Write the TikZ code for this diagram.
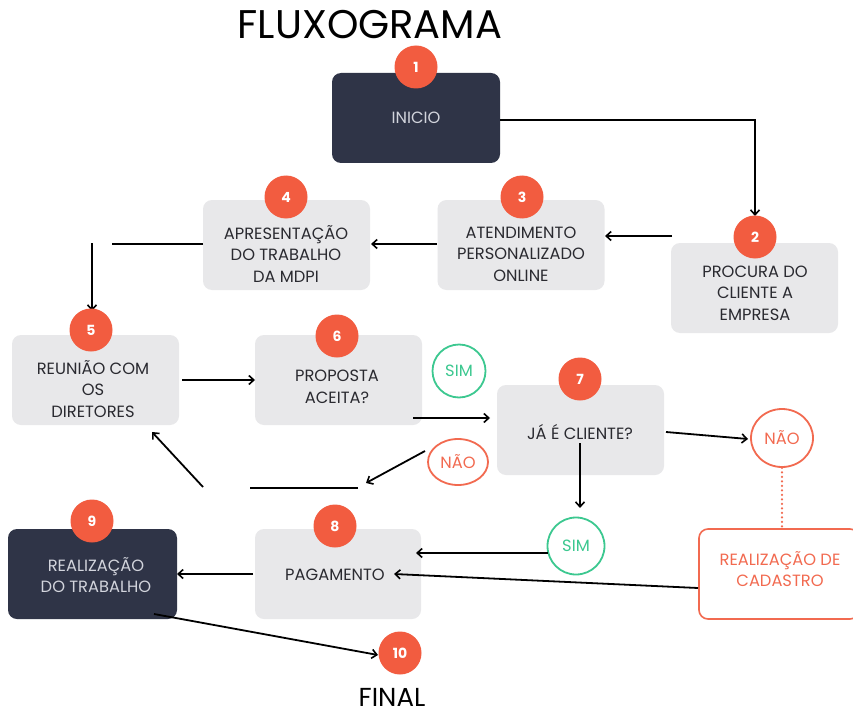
\documentclass[tikz,border=0pt]{standalone}
\usepackage{fontspec}
\setmainfont{Poppins}
\usetikzlibrary{arrows.meta,shapes.geometric}
\definecolor{darkbox}{HTML}{2F3447}
\definecolor{graybox}{HTML}{E8E8EA}
\definecolor{badgeor}{HTML}{F25C40}
\definecolor{simgreen}{HTML}{3CC890}
\definecolor{naored}{HTML}{F26A50}
\definecolor{txtdark}{HTML}{2A2A30}
\definecolor{txtlight}{HTML}{D2D4DC}
\tikzset{
  gbox/.style={rectangle, rounded corners=9pt, fill=graybox, minimum width=167pt, minimum height=90pt, inner sep=0pt},
  dbox/.style={rectangle, rounded corners=9pt, fill=darkbox, minimum width=168pt, minimum height=90pt, inner sep=0pt},
  obox/.style={rectangle, rounded corners=9pt, fill=white, draw=naored, line width=1.6pt, minimum width=160pt, minimum height=90pt, inner sep=0pt},
  btxt/.style={align=center, text=txtdark, font=\fontsize{16.3}{21.5}\selectfont, inner sep=0pt},
  ltxt/.style={align=center, text=txtlight, font=\fontsize{16.3}{21.5}\selectfont, inner sep=0pt},
  otxt/.style={align=center, text=naored, font=\fontsize{16.3}{21.5}\selectfont, inner sep=0pt},
  badge/.style={circle, fill=badgeor, minimum size=43pt, inner sep=0pt, text=white, font=\bfseries\fontsize{14}{14}\selectfont},
  simc/.style={circle, draw=simgreen, line width=1.8pt, fill=white, minimum size=53pt, inner sep=0pt, text=simgreen, font=\fontsize{16.3}{16}\selectfont},
  naoc/.style={ellipse, draw=naored, line width=1.8pt, fill=white, minimum width=#1, inner sep=0pt, text=naored, font=\fontsize{16.3}{16}\selectfont},
  arr/.style={line width=1.8pt, -{Straight Barb[length=5pt,width=9pt,line width=1.6pt]}},
  ln/.style={line width=1.8pt},
}
\begin{document}
\begin{tikzpicture}[x=1pt,y=-1pt]
\useasboundingbox (0,0) rectangle (853,714);
\fill[white] (0,0) rectangle (853,714);
% title
\node[font=\fontsize{40}{40}\selectfont, text=black] (title) at (370,25) {FLUXOGRAMA};
\node[font=\fontsize{26}{26}\selectfont, text=black] (final) at (392,697) {FINAL};
% boxes
\node[dbox] (b1) at (416,118) {};
\node[gbox] (b2) at (754.5,288) {};
\node[gbox] (b3) at (521,245) {};
\node[gbox] (b4) at (286.5,245) {};
\node[gbox] (b5) at (95.5,380) {};
\node[gbox] (b6) at (338.5,380) {};
\node[gbox] (b7) at (580.5,430) {};
\node[gbox, minimum width=166pt] (b8) at (338,574) {};
\node[dbox, minimum width=169pt] (b9) at (92.5,574) {};
\node[obox] (bcad) at (779,574) {};
% texts
\node[ltxt] (t1) at (416,118) {INICIO};
\node[btxt] (t2) at (755,293) {PROCURA DO\\CLIENTE A\\EMPRESA};
\node[btxt] (t3) at (521,254) {ATENDIMENTO\\PERSONALIZADO\\ONLINE};
\node[btxt] (t4) at (286,254) {APRESENTAÇÃO\\DO TRABALHO\\DA MDPI};
\node[btxt] (t5) at (93,389) {REUNIÃO COM\\OS\\DIRETORES};
\node[btxt] (t6) at (337,387) {PROPOSTA\\ACEITA?};
\node[btxt] (t7) at (580,432) {JÁ É CLIENTE?};
\node[btxt] (t8) at (335,575) {PAGAMENTO};
\node[ltxt] (t9) at (96,575) {REALIZAÇÃO\\DO TRABALHO};
\node[otxt] (tcad) at (780,569) {REALIZAÇÃO DE\\CADASTRO};
% decision circles
\node[simc] (sim1) at (459,371) {SIM};
\node[naoc=60pt, minimum height=46pt] (nao1) at (458,462) {NÃO};
\node[naoc=62pt, minimum height=58pt] (nao2) at (782,438) {NÃO};
\node[simc, minimum size=57pt] (sim2) at (576,546) {SIM};
% coordinates for connectors
\coordinate (c1a) at (500,120);
\coordinate (c1b) at (755,120);
\coordinate (c1c) at (755,216);
\coordinate (c2a) at (672,236);
\coordinate (c2b) at (605,236);
\coordinate (c3a) at (437,244);
\coordinate (c3b) at (371,244);
\coordinate (c4a) at (203,244);
\coordinate (c4b) at (112,244);
\coordinate (c4c) at (92,243);
\coordinate (c4d) at (92,311);
\coordinate (c5a) at (182,380);
\coordinate (c5b) at (255,380);
\coordinate (c6a) at (413,418);
\coordinate (c6b) at (490,418);
\coordinate (n1a) at (425,451);
\coordinate (n1b) at (366,483);
\coordinate (r1a) at (358,488);
\coordinate (r1b) at (250,488);
\coordinate (r2a) at (203,487);
\coordinate (r2b) at (152,432);
\coordinate (c7a) at (666,432);
\coordinate (c7b) at (748,439);
\coordinate (c7c) at (580,443);
\coordinate (c7d) at (580,508);
\coordinate (s2a) at (548,553);
\coordinate (s2b) at (416,553);
\coordinate (cda) at (698,588);
\coordinate (cdb) at (394,574);
\coordinate (c8a) at (253,574);
\coordinate (c8b) at (177,574);
\coordinate (c9a) at (154,614);
\coordinate (c9b) at (378,655);
% connectors
\draw[arr] (c1a) -- (c1b) -- (c1c);
\draw[arr] (c2a) -- (c2b);
\draw[arr] (c3a) -- (c3b);
\draw[ln] (c4a) -- (c4b);
\draw[arr] (c4c) -- (c4d);
\draw[arr] (c5a) -- (c5b);
\draw[arr] (c6a) -- (c6b);
\draw[arr] (n1a) -- (n1b);
\draw[ln] (r1a) -- (r1b);
\draw[arr] (r2a) -- (r2b);
\draw[arr] (c7a) -- (c7b);
\draw[arr] (c7c) -- (c7d);
\draw[arr] (s2a) -- (s2b);
\draw[arr] (cda) -- (cdb);
\draw[arr] (c8a) -- (c8b);
\draw[arr] (c9a) -- (c9b);
\draw[naored, line width=2.4pt, dash pattern=on 0pt off 4.5pt, line cap=round] (nao2.south) -- (bcad.north -| nao2.south);
% badges
\node[badge] (k1) at (416,67) {1};
\node[badge] (k2) at (755,237) {2};
\node[badge] (k3) at (522,197) {3};
\node[badge] (k4) at (286,197) {4};
\node[badge] (k5) at (91,330) {5};
\node[badge] (k6) at (337,336) {6};
\node[badge] (k7) at (580,379) {7};
\node[badge] (k8) at (335,526) {8};
\node[badge] (k9) at (92,521) {9};
\node[badge] (k10) at (400,653) {10};
\end{tikzpicture}
\end{document}
